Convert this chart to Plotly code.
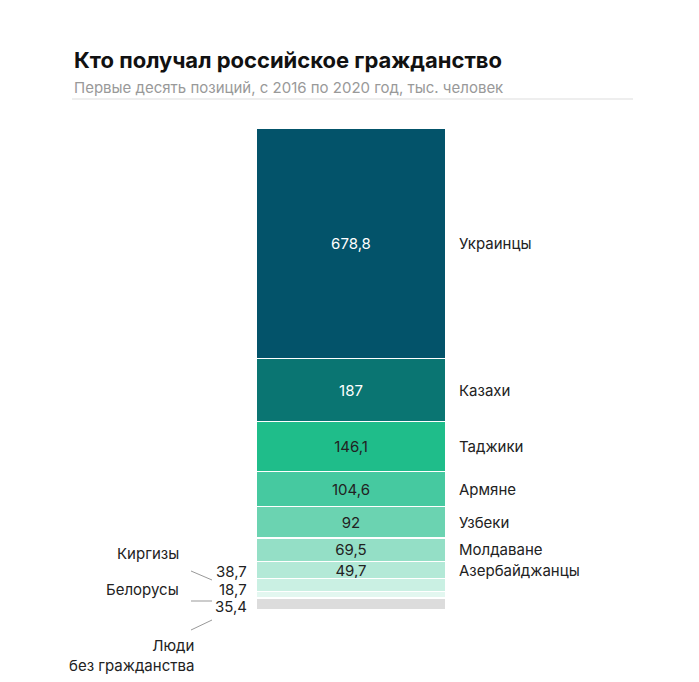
import plotly.graph_objects as go

names = ["Украинцы", "Казахи", "Таджики", "Армяне", "Узбеки", "Молдаване",
         "Азербайджанцы", "Киргизы", "Белорусы", "Люди<br>без гражданства"]
values = [678.8, 187, 146.1, 104.6, 92, 69.5, 49.7, 38.7, 18.7, 35.4]
labels = ["678,8", "187", "146,1", "104,6", "92", "69,5", "49,7", "38,7", "18,7", "35,4"]
colors = ["#03536a", "#0a7572", "#1fbd8a", "#46c9a0", "#6bd3b1", "#94dfc6",
          "#b3e9d7", "#caf0e3", "#e3f7f0", "#dcdcdc"]
text_colors = ["white", "white", "#222"] + ["#222"] * 7

O = 8  # page body margin
W, H = 699 - 2 * O, 682 - 2 * O
T, B = 128 - O, 610 - O
total = sum(values)


def xp(px):
    return (px - O) / W


def yp(py):
    return (B - (py - O)) / (B - T)


fig = go.Figure()
for i, v in enumerate(values):
    fig.add_trace(go.Bar(
        x=[0], y=[v], width=1, marker_color=colors[i],
        marker_line_color="white", marker_line_width=1.2,
        text=[labels[i]] if i < 7 else [""], textposition="inside",
        insidetextanchor="middle", textangle=0,
        textfont=dict(color=text_colors[i], size=15), hoverinfo="skip",
    ))

annotations = []
cum = 0
for i, v in enumerate(values):
    mid = cum + v / 2
    cum += v
    if i < 7:
        annotations.append(dict(x=0.56, y=mid, xref="x", yref="y", text=names[i],
                                showarrow=False, xanchor="left",
                                font=dict(size=15, color="#222")))

# small segments, labelled on the left
left = [
    dict(x=xp(181), y=yp(565), text=names[7], xanchor="right"),
    dict(x=xp(249), y=yp(583), text=labels[7], xanchor="right"),
    dict(x=xp(181), y=yp(601), text=names[8], xanchor="right"),
    dict(x=xp(249), y=yp(601), text=labels[8], xanchor="right"),
    dict(x=xp(249), y=yp(618), text=labels[9], xanchor="right"),
    dict(x=xp(196), y=yp(634), text=names[9], xanchor="right", align="right", yanchor="top"),
]
for a in left:
    a.update(xref="paper", yref="paper", showarrow=False,
             font=dict(size=15, color="#222"))
annotations += left

annotations += [
    dict(x=xp(72), y=yp(45), xref="paper", yref="paper", text="<b>Кто получал российское гражданство</b>",
         showarrow=False, xanchor="left", font=dict(size=22, color="#111")),
    dict(x=xp(72), y=yp(76), xref="paper", yref="paper",
         text="Первые десять позиций, с 2016 по 2020 год, тыс. человек",
         showarrow=False, xanchor="left", font=dict(size=15, color="#999")),
]

line = dict(color="#999", width=1)
shapes = [
    dict(type="line", xref="paper", yref="paper", x0=xp(72), x1=xp(633), y0=yp(99), y1=yp(99),
         line=dict(color="#ddd", width=1)),
    dict(type="line", xref="paper", yref="paper", x0=xp(191), x1=xp(212), y0=yp(571), y1=yp(580), line=line),
    dict(type="line", xref="paper", yref="paper", x0=xp(191), x1=xp(212), y0=yp(601), y1=yp(601), line=line),
    dict(type="line", xref="paper", yref="paper", x0=xp(191), x1=xp(212), y0=yp(630), y1=yp(620), line=line),
]

cx = 351 - O
fig.update_layout(
    width=W, height=H, barmode="stack", showlegend=False,
    margin=dict(l=0, r=0, t=T, b=H - B),
    paper_bgcolor="white", plot_bgcolor="white",
    font=dict(family="Inter, Roboto, sans-serif"),
    uniformtext=dict(minsize=15, mode="show"),
    xaxis=dict(range=[-cx / 190, (W - cx) / 190], visible=False, fixedrange=True),
    yaxis=dict(range=[total, 0], visible=False, fixedrange=True),
    annotations=annotations, shapes=shapes,
)
fig.write_html("out.html")
